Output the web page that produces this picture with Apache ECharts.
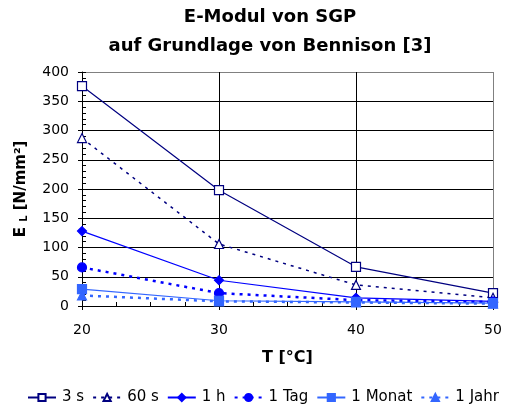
<!DOCTYPE html>
<html><head><meta charset="utf-8">
<script src="https://cdn.jsdelivr.net/npm/echarts@6/dist/echarts.min.js"></script>
<style>html,body{margin:0;padding:0;background:#fff}#c{width:506px;height:409px}</style>
</head><body><div id="c"></div>
<script>
const temps = [20, 30, 40, 50];
const s3 = [376, 198, 67, 22];
const s60 = [287, 106, 36, 14];
const h1 = [128, 44, 14, 8];
const tag1 = [66, 22, 10, 7];
const monat1 = [29, 9, 7, 5];
const jahr1 = [18, 8, 6, 4];
const names = ['3 s', '60 s', '1 h', '1 Tag', '1 Monat', '1 Jahr'];

const F = 'DejaVu Sans, Verdana, sans-serif';
function pts(arr){ return temps.map((t,i)=>[t, arr[i]]); }
function ser(name, data, color, symbol, dotted, filled, width){
  return {
    name, type:'line', data: pts(data), symbol, symbolSize: 9,
    lineStyle:{color, width, type: dotted ? [3,5] : 'solid'},
    itemStyle:{color: filled ? color : '#fff', borderColor: color, borderWidth: 1.2},
    emphasis:{disabled:true}, animation:false, z: 5
  };
}
const chart = echarts.init(document.getElementById('c'));
chart.setOption({
  animation:false,
  backgroundColor:'#fff',
  title:{
    text:'E-Modul von SGP\nauf Grundlage von Bennison [3]',
    left: 265, top: -2, textAlign:'center',
    textStyle:{fontFamily:F, fontSize:18, fontWeight:'bold', color:'#000', lineHeight:29}
  },
  grid:{left:82, right:13, top:72, bottom:103},
  legend:{
    bottom: -1, left: 22, width: 484, padding: [5,0,5,5], itemWidth: 28, itemHeight: 9, itemGap: 8,
    textStyle:{fontFamily:F, fontSize:15, color:'#000', padding:[0,0,0,1]},
    data: names
  },
  xAxis:[{
    type:'value', min:20, max:50, interval:10,
    name:'T [°C]', nameLocation:'middle', nameGap:44,
    nameTextStyle:{fontFamily:F, fontSize:16, fontWeight:'bold', color:'#000'},
    axisLine:{show:true, lineStyle:{color:'#000', width:1}},
    axisTick:{show:true, inside:false, length:4, lineStyle:{color:'#000'}},
    axisLabel:{fontFamily:F, fontSize:14, color:'#000', margin:17},
    splitLine:{show:true, lineStyle:{color:['#000','#000','#000','#808080'], width:1}}
  },{
    type:'value', min:20, max:50, interval:10, position:'bottom',
    axisLine:{show:false}, axisLabel:{show:false},
    axisTick:{show:true, inside:true, length:4, lineStyle:{color:'#000'}},
    minorTick:{show:true, splitNumber:4, length:4, lineStyle:{color:'#000'}},
    splitLine:{show:false}
  }],
  yAxis:[{
    type:'value', min:0, max:400, interval:50,
    name:'{b|E }{s|L}{b| [N/mm²]}', nameLocation:'middle', nameGap:53, nameRotate:90,
    nameTextStyle:{fontFamily:F, fontSize:15, fontWeight:'bold', color:'#000',
      rich:{
        b:{fontFamily:F, fontSize:15, fontWeight:'bold', color:'#000'},
        s:{fontFamily:F, fontSize:10, fontWeight:'bold', color:'#000', verticalAlign:'bottom', padding:[6,0,0,0]}
      }},
    axisLine:{show:true, lineStyle:{color:'#000', width:1}},
    axisTick:{show:true, inside:false, length:4, lineStyle:{color:'#000'}},
    axisLabel:{fontFamily:F, fontSize:14, color:'#000', margin:13},
    splitLine:{show:true, lineStyle:{color:['#000','#000','#000','#000','#000','#000','#000','#000','#808080'], width:1}}
  },{
    type:'value', min:0, max:400, interval:50, position:'left',
    axisLine:{show:false}, axisLabel:{show:false},
    axisTick:{show:true, inside:true, length:4, lineStyle:{color:'#000'}},
    minorTick:{show:true, splitNumber:5, length:4, lineStyle:{color:'#000'}},
    splitLine:{show:false}
  }],
  series:[
    ser('3 s', s3, '#000080', 'rect', false, false, 1.2),
    ser('60 s', s60, '#000080', 'triangle', true, false, 1.5),
    ser('1 h', h1, '#0000FF', 'diamond', false, true, 1.2),
    ser('1 Tag', tag1, '#0000FF', 'circle', true, true, 2.5),
    ser('1 Monat', monat1, '#3366FF', 'rect', false, true, 1.2),
    ser('1 Jahr', jahr1, '#3366FF', 'triangle', true, true, 2.5)
  ]
});
</script></body></html>
